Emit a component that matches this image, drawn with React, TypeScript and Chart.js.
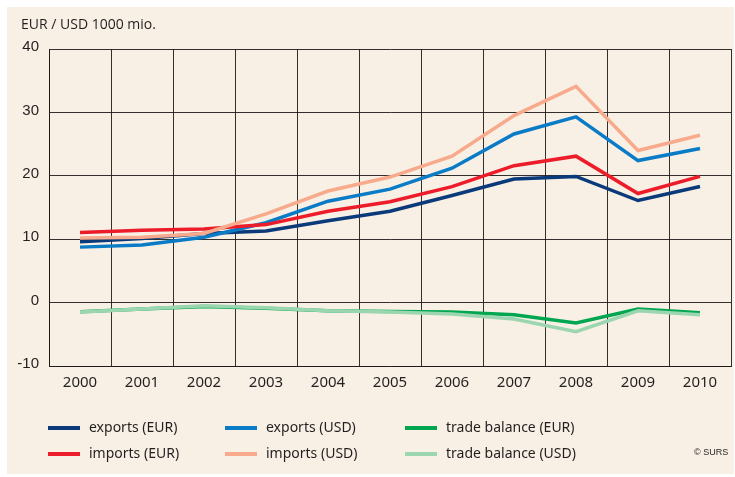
import React, { useEffect, useRef } from "react";
import { Chart, registerables } from "chart.js";

Chart.register(...registerables);

const years = ["2000", "2001", "2002", "2003", "2004", "2005", "2006", "2007", "2008", "2009", "2010"];
const exportsEUR = [9.6, 10.1, 10.9, 11.3, 12.9, 14.4, 16.9, 19.5, 19.9, 16.1, 18.3];
const exportsUSD = [8.75, 9.1, 10.3, 12.6, 16.0, 17.9, 21.2, 26.6, 29.3, 22.4, 24.3];
const importsEUR = [11.05, 11.4, 11.6, 12.3, 14.4, 15.9, 18.3, 21.6, 23.1, 17.2, 19.9];
const importsUSD = [10.2, 10.3, 10.9, 14.0, 17.6, 19.8, 23.1, 29.5, 34.1, 24.0, 26.4];
const tradeEUR = [-1.45, -1.0, -0.6, -0.9, -1.3, -1.4, -1.5, -1.9, -3.2, -1.0, -1.6];
const tradeUSD = [-1.5, -1.0, -0.5, -0.8, -1.3, -1.5, -1.8, -2.6, -4.6, -1.3, -1.9];
const yTicks = [-10, 0, 10, 20, 30, 40];

const seriesNames = ["exports (EUR)", "imports (EUR)", "exports (USD)", "imports (USD)", "trade balance (EUR)", "trade balance (USD)"];
const seriesColors = ["#0b3a7a", "#ec1c2a", "#0a7bc6", "#f8aa8c", "#00a650", "#9bd6b0"];
const seriesData = [exportsEUR, importsEUR, exportsUSD, importsUSD, tradeEUR, tradeUSD];

const TEXT = "#231f20";
const GRID = "rgba(30,26,24,0.9)";

const overlay = {
  id: "overlay",
  afterDraw(chart: any) {
    const ctx = chart.ctx;
    ctx.save();
    ctx.fillStyle = TEXT;
    ctx.textBaseline = "middle";
    ctx.textAlign = "left";
    ctx.font = "14px 'Open Sans', sans-serif";
    ctx.fillText("EUR / USD 1000 mio.", 21, 25);

    const colX = [48, 225, 405];
    const rowY = [428, 454];
    ctx.font = "14px 'Noto Sans', sans-serif";
    for (let i = 0; i < seriesNames.length; i++) {
      const c = Math.floor(i / 2);
      const r = i % 2;
      const x = colX[c];
      const y = rowY[r];
      ctx.strokeStyle = seriesColors[i];
      ctx.lineWidth = 4;
      ctx.lineCap = "butt";
      ctx.beginPath();
      ctx.moveTo(x, y);
      ctx.lineTo(x + 32, y);
      ctx.stroke();
      ctx.fillStyle = TEXT;
      ctx.fillText(seriesNames[i], x + 41, y);
    }
    ctx.font = "9px 'Liberation Sans', sans-serif";
    ctx.fillText("© SURS", 694, 453);
    ctx.restore();
  },
};

export default function App() {
  const ref = useRef<HTMLCanvasElement | null>(null);
  useEffect(() => {
    if (!ref.current) return;
    const order = [0, 2, 1, 3, 4, 5];
    const chart = new Chart(ref.current, {
      type: "line",
      data: {
        labels: years,
        datasets: order.slice().reverse().map((i) => ({
          label: seriesNames[i],
          data: seriesData[i],
          borderColor: seriesColors[i],
          backgroundColor: seriesColors[i],
          borderWidth: 3.5,
          pointRadius: 0,
          tension: 0,
          fill: false,
        })),
      },
      options: {
        animation: false,
        responsive: false,
        maintainAspectRatio: false,
        layout: { padding: { top: 49, right: 4, left: 0, bottom: 0 } },
        plugins: { legend: { display: false }, tooltip: { enabled: false }, title: { display: false } },
        scales: {
          x: {
            type: "category",
            offset: true,
            grid: { offset: true, color: GRID, lineWidth: 1, drawTicks: false },
            border: { display: true, color: GRID, width: 1 },
            ticks: { padding: 8, color: TEXT, font: { family: "'Noto Sans', sans-serif", size: 15 } },
            afterFit: (s: any) => { s.height = 111; },
          },
          y: {
            min: -10,
            max: 40,
            afterBuildTicks: (s: any) => { s.ticks = yTicks.map((v) => ({ value: v })); },
            grid: { color: GRID, lineWidth: 1, drawTicks: false },
            border: { display: true, color: GRID, width: 1 },
            ticks: { padding: 10, labelOffset: -2, color: TEXT, font: { family: "'Liberation Sans', sans-serif", size: 15 } },
            afterFit: (s: any) => { s.width = 49; },
          },
        },
      },
      plugins: [overlay],
    });
    return () => chart.destroy();
  }, []);
  return (
    <div style={{ position: "fixed", left: 0, top: 0, width: 735, height: 477, background: "#ffffff" }}>
      <div style={{ position: "absolute", left: 7, top: 7, width: 727, height: 467, background: "#f8f0e4" }} />
      <canvas ref={ref} width={735} height={477} style={{ position: "absolute", left: 0, top: 0, width: 735, height: 477 }} />
    </div>
  );
}
